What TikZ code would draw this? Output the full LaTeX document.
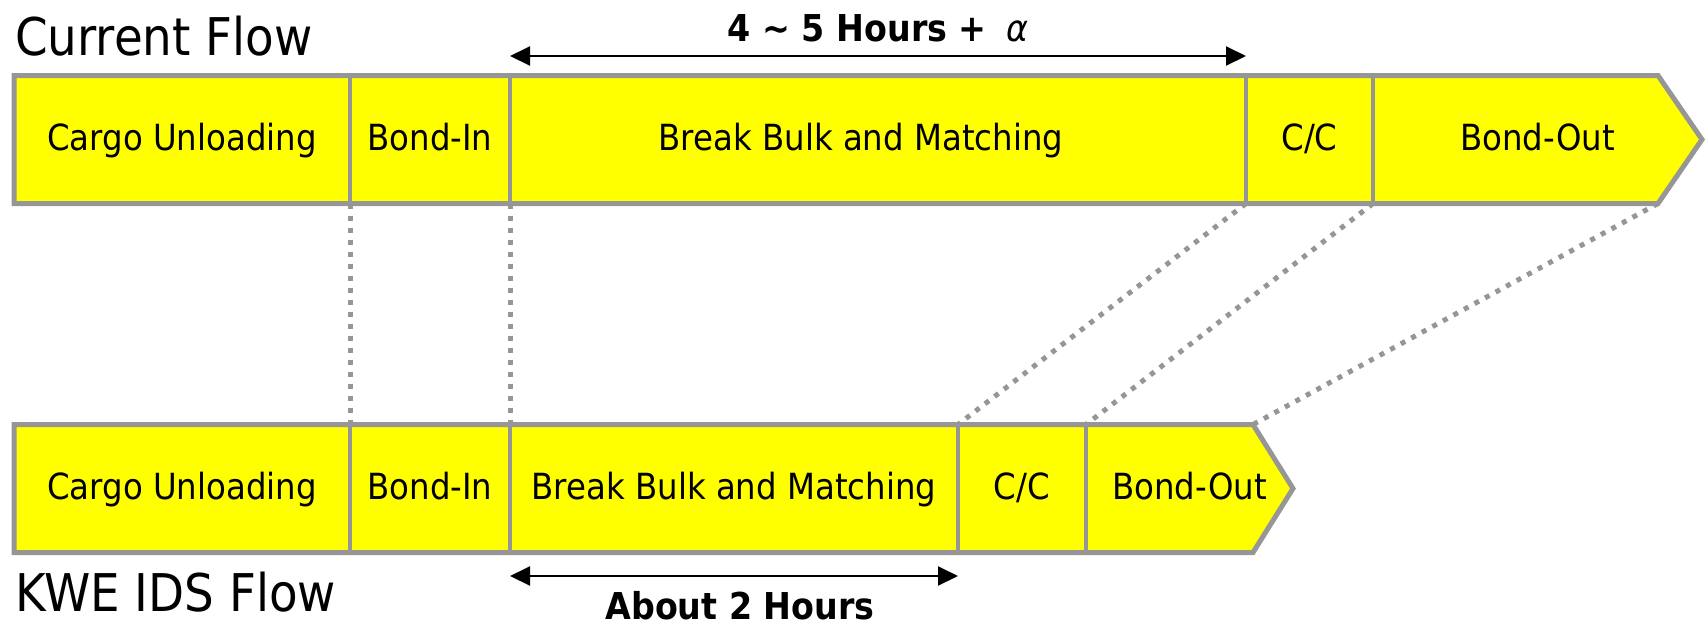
\documentclass[tikz,border=0pt]{standalone}
\usepackage{fontspec}
\setmainfont{DejaVu Sans}[FakeStretch=0.9]
\usetikzlibrary{positioning,arrows.meta,backgrounds}

\definecolor{barfill}{RGB}{255,255,0}
\definecolor{bargray}{RGB}{150,150,150}

\tikzset{
  seg/.style={inner sep=0pt, outer sep=0pt, minimum height=128pt,
              text height=28pt, text depth=7pt,
              font=\fontsize{36}{40}\selectfont},
  bar/.style={fill=barfill, draw=bargray, line width=5pt, line join=miter},
  divider/.style={draw=bargray, line width=3.5pt},
  guide/.style={draw=bargray, line width=5pt, dash pattern=on 5pt off 7pt},
  span/.style={line width=2pt,
               {Triangle[length=20pt,width=19pt]}-{Triangle[length=20pt,width=19pt]}},
  title/.style={inner sep=0pt, anchor=base west, font=\fontsize{52}{60}\selectfont},
  hours/.style={inner sep=0pt, anchor=base, font=\bfseries\fontsize{37}{44}\selectfont}
}

\begin{document}
\begin{tikzpicture}[x=1pt, y=-1pt]
  \useasboundingbox (0,0) rectangle (1706,625);

  % titles
  \node[title] (ttitle) at (15,55) {Current Flow};
  \node[title] (ktitle) at (15,611) {KWE IDS Flow};

  % current flow
  \node[seg, minimum width=336pt, anchor=west] (tcargo) at (14,139.5) {Cargo Unloading};
  \node[seg, minimum width=160pt, right=0pt of tcargo] (tbondin) {Bond-In};
  \node[seg, minimum width=736pt, right=0pt of tbondin] (tbulk) {Break Bulk and Matching\hspace*{34pt}};
  \node[seg, minimum width=127pt, right=0pt of tbulk] (tcc) {C/C};
  \node[seg, minimum width=329pt, right=0pt of tcc] (tbondout) {Bond-Out};

  % kwe ids flow
  \node[seg, minimum width=336pt, anchor=west] (kcargo) at (14,488.5) {Cargo Unloading};
  \node[seg, minimum width=160pt, right=0pt of kcargo] (kbondin) {Bond-In};
  \node[seg, minimum width=448pt, right=0pt of kbondin] (kbulk) {Break Bulk and Matching};
  \node[seg, minimum width=128pt, right=0pt of kbulk] (kcc) {C/C};
  \node[seg, minimum width=207pt, right=0pt of kcc] (kbondout) {Bond-Out};

  \begin{pgfonlayer}{background}
    % guides between the two flows
    \draw[guide] (tbondin.south west) -- (kbondin.north west);
    \draw[guide] (tbulk.south west) -- (kbulk.north west);
    \draw[guide] (tcc.south west) -- (kcc.north west);
    \draw[guide] (tbondout.south west) -- (kbondout.north west);
    \draw[guide] ([xshift=-44pt]tbondout.south east) -- ([xshift=-40pt]kbondout.north east);

    % bars
    \path[bar] (tcargo.north west) -- ([xshift=-44pt]tbondout.north east) -- (tbondout.east)
      -- ([xshift=-44pt]tbondout.south east) -- (tcargo.south west) -- cycle;
    \path[bar] (kcargo.north west) -- ([xshift=-40pt]kbondout.north east) -- (kbondout.east)
      -- ([xshift=-40pt]kbondout.south east) -- (kcargo.south west) -- cycle;

    \foreach \s in {tbondin,tbulk,tcc,tbondout,kbondin,kbulk,kcc,kbondout}
      \draw[divider] (\s.north west) -- (\s.south west);
  \end{pgfonlayer}

  % time spans
  \draw[span] ([yshift=19.5pt]tbulk.north west) -- ([yshift=19.5pt]tbulk.north east)
    node[hours, midway, yshift=15pt] (tspan) {4 ∼ 5 Hours +\hspace{8pt} {\mdseries\itshape α}};
  \draw[span] ([yshift=-23.5pt]kbulk.south west) -- ([yshift=-23.5pt]kbulk.south east)
    node[hours, midway, yshift=-43pt, xshift=6pt] (kspan) {About 2 Hours};
\end{tikzpicture}
\end{document}
